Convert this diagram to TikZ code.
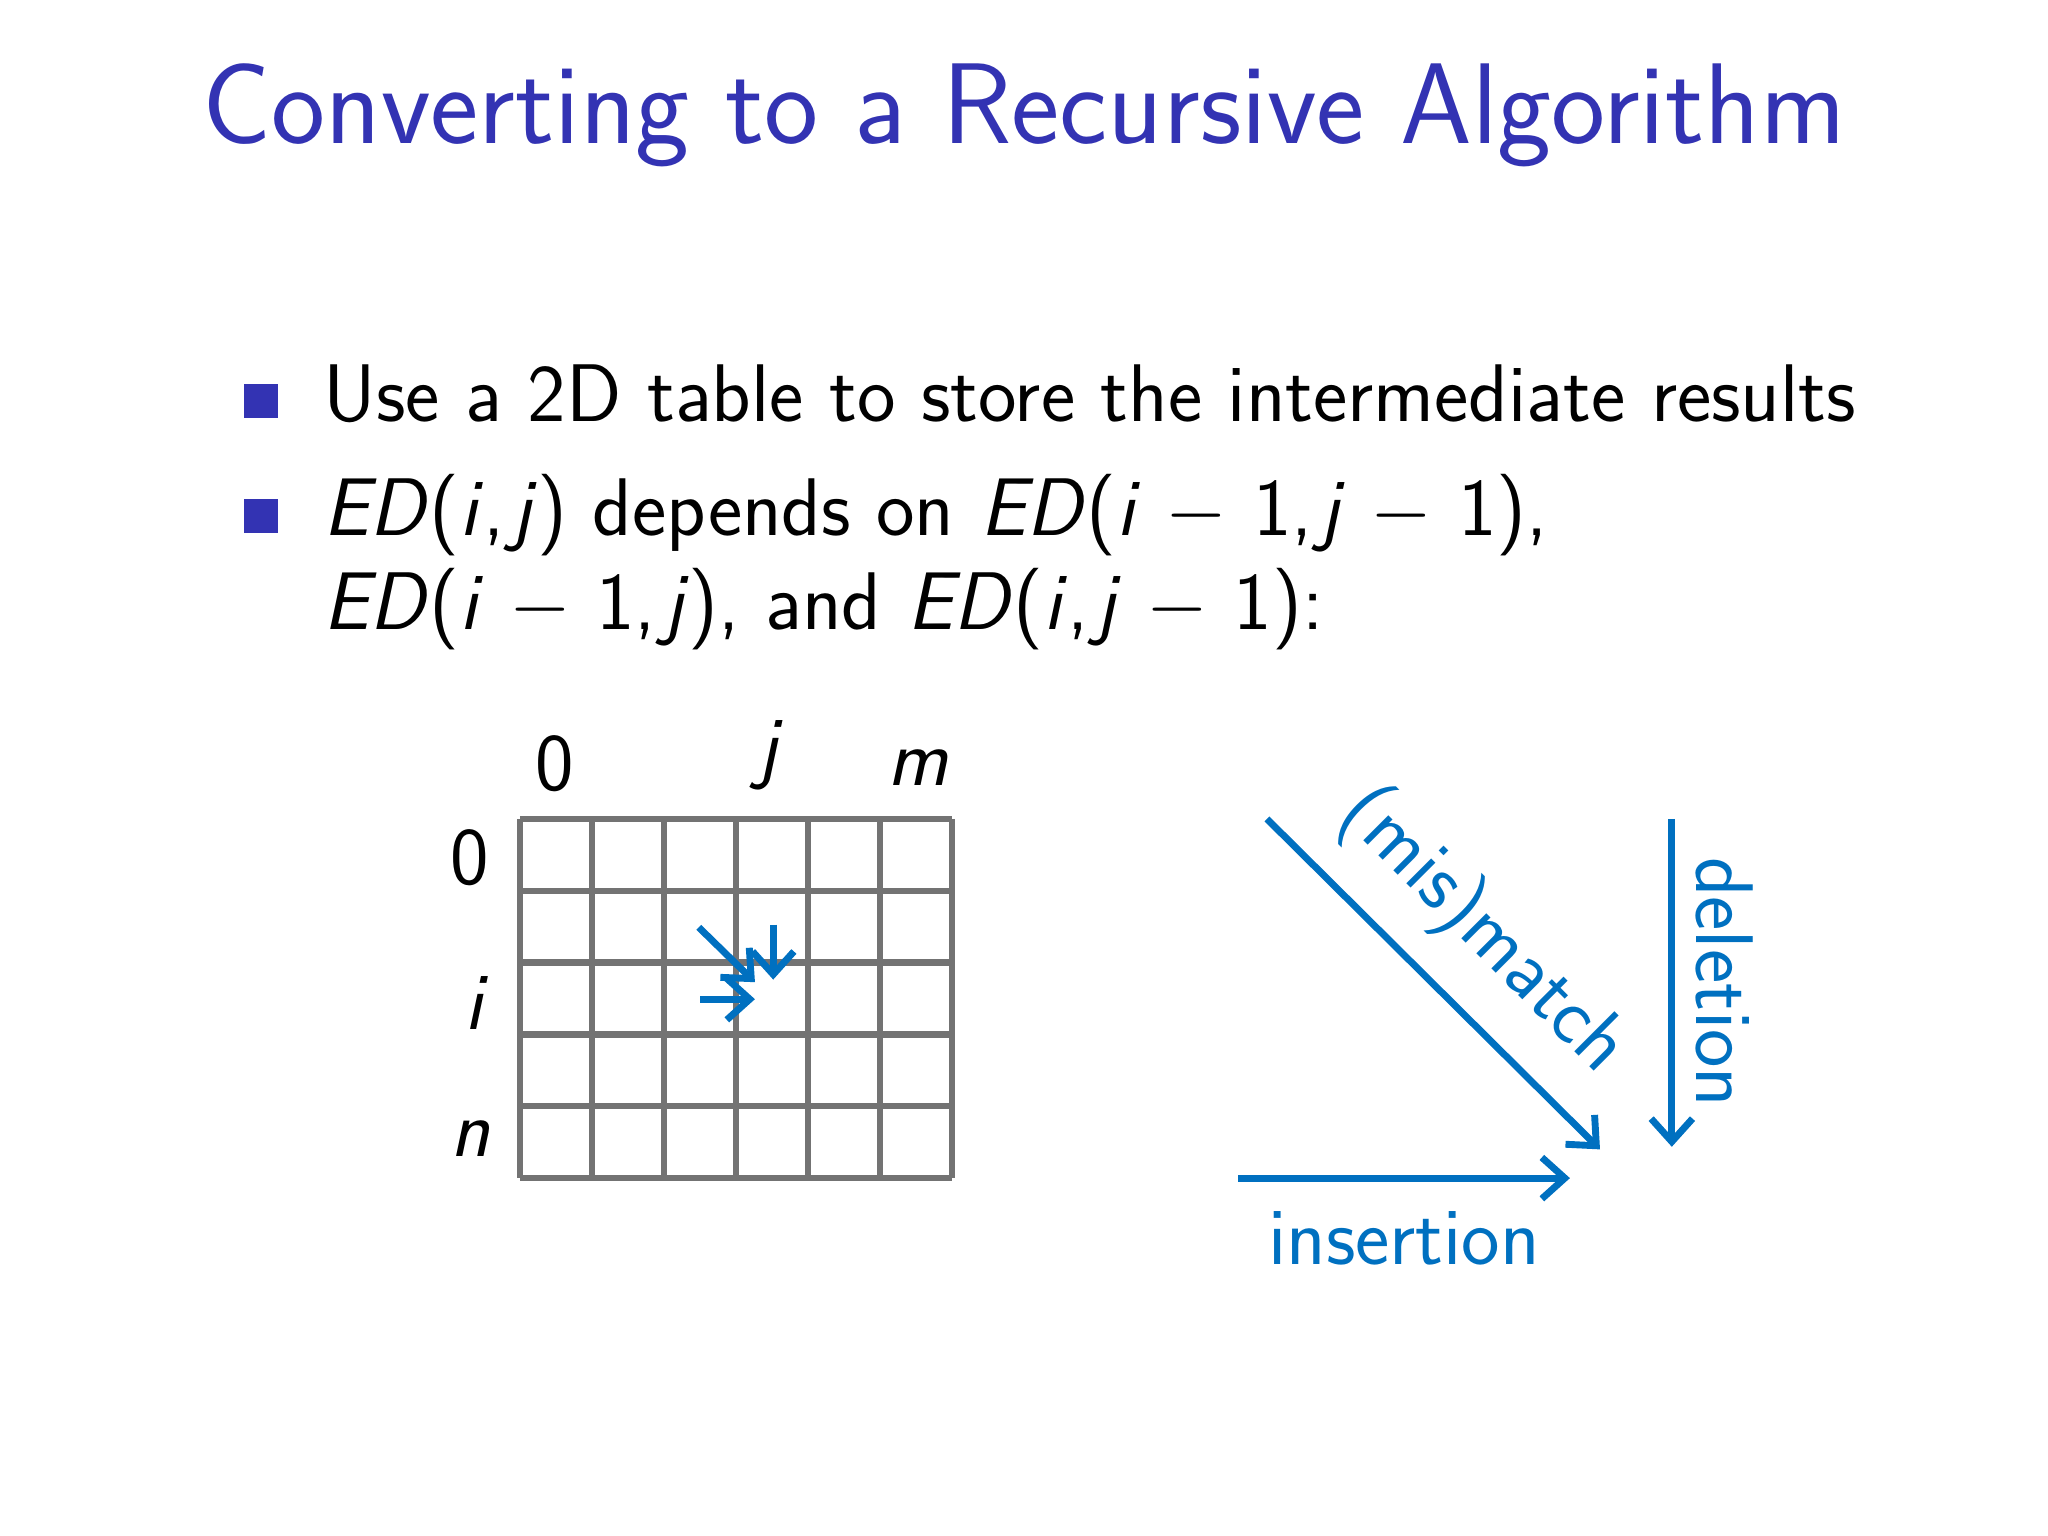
\documentclass[tikz,border=0pt]{standalone}
\usetikzlibrary{arrows.meta}
\definecolor{ttl}{RGB}{51,51,179}
\definecolor{arr}{RGB}{0,112,192}
\newcommand{\vi}[1]{\textit{#1}}
\newcommand{\cm}{,\kern1.5pt}
\begin{document}
\begin{tikzpicture}[x=0.01cm,y=-0.01cm,font=\sffamily,
  bl/.style={draw=arr,line width=1.5pt,-{Straight Barb[length=5pt,width=9pt]}},
  lab/.style={font=\sffamily\fontsize{17.8}{22}\selectfont},
  blab/.style={font=\sffamily\fontsize{17.8}{22}\selectfont,text=arr}]
\useasboundingbox (0,0) rectangle (1568,1176);
\node[text=ttl,font=\sffamily\fontsize{25}{30}\selectfont] (title) at (784,88) {Converting to a Recursive Algorithm};
\fill[ttl] (187,294) rectangle (213,320);
\fill[ttl] (187,382) rectangle (213,408);
\node[lab,anchor=base west,inner sep=0] (b1) at (247,323) {Use a 2D table to store the intermediate results};
\node[lab,anchor=base west,inner sep=0] (b2) at (247,410) {\vi{ED}(\vi{i}\cm\vi{j}) depends on \vi{ED}(\vi{i} $-$ 1\cm\vi{j} $-$ 1),};
\node[lab,anchor=base west,inner sep=0] (b3) at (247,482) {\vi{ED}(\vi{i} $-$ 1\cm\vi{j}), and \vi{ED}(\vi{i}\cm\vi{j} $-$ 1):};
% grid
\foreach \k in {0,...,6} \draw[gray!90!black,line width=1.4pt] ({398+\k*55.17},627) -- ({398+\k*55.17},902);
\foreach \k in {0,...,5} \draw[gray!90!black,line width=1.4pt] (398,{627+\k*55}) -- (729,{627+\k*55});
\node[lab] (c0) at (425,585) {0};
\node[lab] (cj) at (590,578) {\vi{j}};
\node[lab] (cm) at (703,588) {\vi{m}};
\node[lab] (r0) at (360,657) {0};
\node[lab] (ri) at (365,768) {\vi{i}};
\node[lab] (rn) at (360,872) {\vi{n}};
\coordinate (d1) at (535,710); \coordinate (d2) at (578,752);
\coordinate (v1) at (592,708); \coordinate (v2) at (592,750);
\coordinate (h1) at (536,765); \coordinate (h2) at (578,765);
\draw[bl] (d1) -- (d2);
\draw[bl] (v1) -- (v2);
\draw[bl] (h1) -- (h2);
% right
\coordinate (m1) at (970,627); \coordinate (m2) at (1225,880);
\coordinate (i1) at (948,902); \coordinate (i2) at (1202,902);
\coordinate (e1) at (1280,627); \coordinate (e2) at (1280,878);
\draw[bl] (m1) -- (m2);
\draw[bl] (i1) -- (i2);
\draw[bl] (e1) -- (e2);
\node[blab,rotate=-45] (mm) at (1135,713) {(mis)match};
\node[blab] (ins) at (1075,948) {insertion};
\node[blab,rotate=-90] (del) at (1320,752) {deletion};
\end{tikzpicture}
\end{document}
